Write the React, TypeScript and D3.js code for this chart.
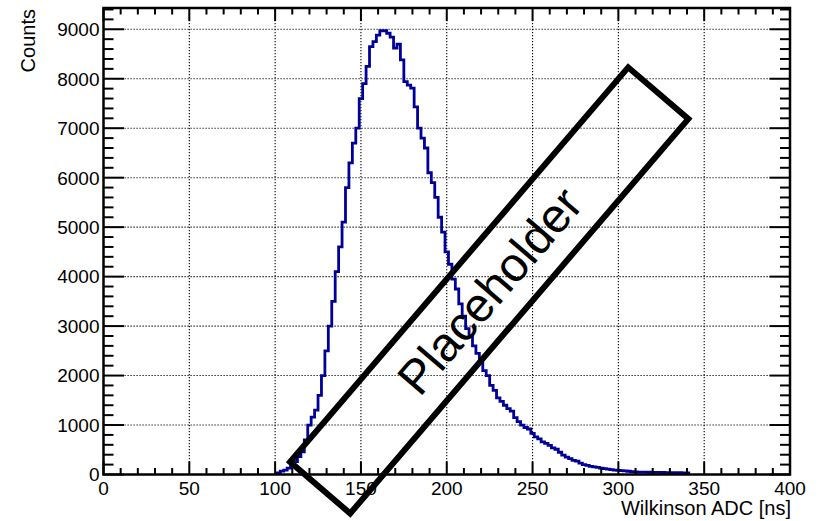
import React from "react";
import * as d3 from "d3";

const W = 819;
const H = 521;

// Histogram: bins of width 2 ns starting at 101 ns
const binStart = 101;
const binWidth = 2;
const counts = [
  30, 70, 90, 130, 170, 260, 360, 460, 700, 1000,
  1160, 1300, 1600, 2000, 2500, 3000, 3500, 4100, 4600, 5100,
  5800, 6300, 6700, 7000, 7600, 7900, 8250, 8650, 8750, 8880,
  8970, 8970, 8920, 8840, 8620, 8700, 8380, 7940, 7870, 7810,
  7430, 7000, 6800, 6600, 6100, 5900, 5600, 5200, 4900, 4500,
  4250, 3950, 3750, 3450, 3200, 2950, 2800, 2600, 2450, 2250,
  2100, 2000, 1800, 1700, 1550, 1480, 1400, 1330, 1280, 1150,
  1070, 1000, 950, 920, 830, 760, 720, 660, 630, 590,
  540, 510, 450, 390, 350, 320, 285, 270, 230, 200,
  185, 165, 155, 145, 130, 120, 110, 100, 90, 85,
  78, 72, 66, 60, 55, 50, 50, 47, 45, 44,
  43, 42, 40, 38, 37, 36, 35, 35, 33, 32,
];

const xTickLabels = [0, 50, 100, 150, 200, 250, 300, 350, 400];
const yTickLabels = [0, 1000, 2000, 3000, 4000, 5000, 6000, 7000, 8000, 9000];
const xDomain = [0, 400];
const yDomain = [0, 9430];
const xTitle = "Wilkinson ADC [ns]";
const yTitle = "Counts";
const placeholderText = "Placeholder";

export default function App() {
  const left = 103.5, right = 790, top = 8, bottom = 474.5;
  const x = d3.scaleLinear().domain(xDomain).range([left, right]);
  const y = d3.scaleLinear().domain(yDomain).range([bottom, top]);
  const font = "'Liberation Sans', Arial, Helvetica, sans-serif";

  const pts: [number, number][] = [];
  pts.push([x(binStart), y(0)]);
  counts.forEach((c, i) => {
    const lo = binStart + i * binWidth;
    const hi = lo + binWidth;
    pts.push([x(lo), y(c)]);
    pts.push([x(hi), y(c)]);
  });
  pts.push([x(binStart + counts.length * binWidth), y(0)]);
  const path = d3.line()(pts) || "";

  const xMinor = d3.range(0, 401, 10);
  const yMinor = d3.range(0, 9431, 200);

  // placeholder rectangle geometry
  const cx = 489.2, cy = 290.4, rl = 519.6, rs = 79.2, ang = -49.4;

  return (
    <svg width={W} height={H} style={{ position: "absolute", left: 0, top: 0, background: "#fff" }}>
      <rect x={0} y={0} width={W} height={H} fill="#fff" />
      {/* grid */}
      <g stroke="#000" strokeWidth={1.1} strokeDasharray="1.2 1.8">
        {xTickLabels.filter(v => v > 0 && v < 400).map(v => (
          <line key={"gx" + v} x1={x(v)} x2={x(v)} y1={top} y2={bottom} />
        ))}
        {yTickLabels.filter(v => v > 0).map(v => (
          <line key={"gy" + v} x1={left} x2={right} y1={y(v)} y2={y(v)} />
        ))}
      </g>
      {/* histogram */}
      <path d={path} fill="none" stroke="#000099" strokeWidth={2.8} strokeLinejoin="miter" />
      {/* ticks */}
      <g stroke="#000" strokeWidth={2}>
        {xMinor.map(v => {
          const major = v % 50 === 0;
          const len = major ? 13 : 6.5;
          return (
            <g key={"tx" + v}>
              <line x1={x(v)} x2={x(v)} y1={bottom} y2={bottom - len} />
              <line x1={x(v)} x2={x(v)} y1={top} y2={top + len} />
            </g>
          );
        })}
        {yMinor.map(v => {
          const major = v % 1000 === 0;
          const len = major ? 20.5 : 10;
          return (
            <g key={"ty" + v}>
              <line x1={left} x2={left + len} y1={y(v)} y2={y(v)} />
              <line x1={right} x2={right - len} y1={y(v)} y2={y(v)} />
            </g>
          );
        })}
      </g>
      {/* frame */}
      <rect x={left} y={top} width={right - left} height={bottom - top} fill="none" stroke="#000" strokeWidth={2.5} />
      {/* tick labels */}
      <g fontFamily={font} fontSize={19} fill="#000">
        {xTickLabels.map(v => (
          <text key={"lx" + v} x={x(v)} y={495} textAnchor="middle">{v}</text>
        ))}
        {yTickLabels.map(v => (
          <text key={"ly" + v} x={99.5} y={y(v)} dy="0.36em" textAnchor="end">{v}</text>
        ))}
      </g>
      <text x={791} y={515} textAnchor="end" fontFamily={font} fontSize={20} fill="#000">{xTitle}</text>
      <text transform="translate(35,9) rotate(-90)" textAnchor="end" fontFamily={font} fontSize={20} fill="#000">{yTitle}</text>
      {/* placeholder */}
      <g transform={`translate(${cx},${cy}) rotate(${ang})`}>
        <rect x={-rl / 2} y={-rs / 2} width={rl} height={rs} fill="none" stroke="#000" strokeWidth={6} />
        <text x={0} y={0} dy="0.36em" textAnchor="middle" fontFamily={font} fontSize={48} fill="#000">{placeholderText}</text>
      </g>
    </svg>
  );
}
